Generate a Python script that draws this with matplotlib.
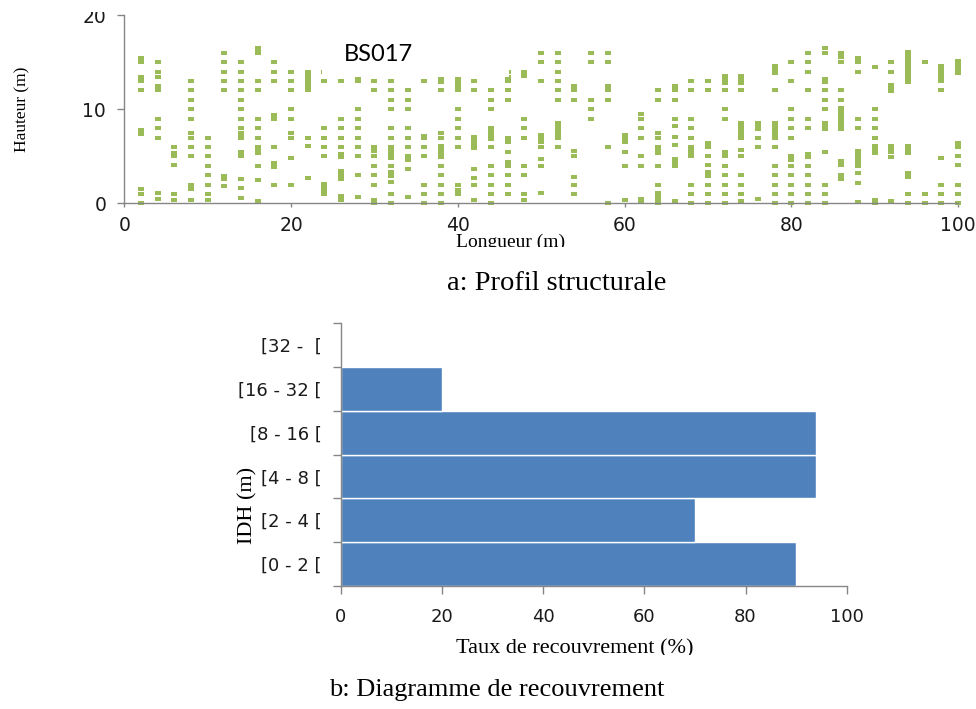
import matplotlib
matplotlib.use("Agg")
import matplotlib.pyplot as plt
from matplotlib.patches import Rectangle
from matplotlib.ticker import FixedLocator, NullFormatter
import numpy as np

W, H, DPI = 976, 709, 100

# ---- a: structural profile (crown positions along a 100 m transect) ----
profile_x = [2, 4, 6, 8, 10, 12, 14, 16, 18, 20,
             22, 24, 26, 28, 30, 32, 34, 36, 38, 40,
             42, 44, 46, 48, 50, 52, 54, 56, 58, 60,
             62, 64, 66, 68, 70, 72, 74, 76, 78, 80,
             82, 84, 86, 88, 90, 92, 94, 96, 98, 100]

profile_heights = [
    [15.5, 15.0, 13.4, 13.0, 12.0, 7.8, 7.4, 1.5, 1.0, 0.0],                       # 2
    [15.0, 14.0, 13.4, 12.5, 12.0, 9.0, 8.0, 6.9, 1.1, 0.5],                       # 4
    [6.0, 5.4, 5.0, 4.1, 1.0, 0.4],                                                # 6
    [13.0, 12.0, 11.0, 10.0, 9.0, 7.5, 6.9, 6.0, 5.0, 2.0, 1.7, 1.5, 0.4],         # 8
    [6.9, 6.0, 5.0, 4.0, 3.0, 1.9, 1.0, 0.4],                                      # 10
    [16.0, 15.0, 14.0, 13.0, 12.0, 2.9, 2.6, 1.8],                                 # 12
    [15.0, 14.0, 13.0, 12.0, 11.0, 10.0, 9.0, 8.0, 7.5, 7.2, 6.9, 5.5, 5.0,
     2.6, 1.6, 0.6],                                                               # 14
    [16.5, 16.2, 15.95, 13.0, 12.0, 9.0, 8.0, 6.9, 6.0, 5.7, 5.4, 4.0, 2.45, 0.2], # 16
    [15.0, 14.0, 13.0, 9.4, 9.0, 6.0, 4.3, 3.9, 2.0],                              # 18
    [14.0, 13.0, 12.0, 10.0, 9.0, 7.5, 6.9, 4.8, 1.9],                             # 20
    [14.0, 13.5, 13.2, 12.9, 12.5, 12.0, 6.9, 6.1, 2.7],                           # 22
    [14.0, 13.0, 8.0, 6.9, 6.0, 5.0, 2.1, 1.7, 1.3, 1.0],                          # 24
    [13.0, 9.0, 8.0, 6.9, 6.0, 5.2, 4.9, 3.4, 3.0, 2.6, 0.8, 0.4],                 # 26
    [13.2, 13.0, 10.0, 9.0, 8.0, 6.9, 6.0, 5.0, 3.0, 0.7],                         # 28
    [13.0, 12.0, 6.0, 5.6, 5.0, 4.0, 3.0, 1.9, 0.4, 0.0],                          # 30
    [13.0, 12.0, 11.0, 10.0, 8.0, 6.9, 6.0, 5.6, 5.2, 4.8, 4.0, 3.3, 2.9, 2.3,
     1.0, 0.0],                                                                    # 32
    [12.0, 11.0, 10.0, 8.0, 6.9, 6.0, 5.0, 4.6, 3.6, 0.7],                         # 34
    [13.0, 7.2, 6.9, 6.0, 5.0, 2.0, 1.0, 0.0],                                     # 36
    [13.3, 12.9, 12.0, 7.5, 6.9, 6.1, 5.7, 5.3, 4.9, 4.0, 3.0, 2.0, 1.0, 0.0],     # 38
    [13.3, 12.9, 12.5, 12.0, 10.0, 9.0, 8.0, 6.9, 6.0, 1.9, 1.4, 1.0],             # 40
    [13.0, 12.0, 7.1, 6.7, 6.3, 5.9, 3.7, 2.7, 1.9, 0.4],                          # 42
    [12.0, 11.0, 10.0, 8.0, 7.6, 7.2, 6.8, 6.0, 4.0, 3.0, 1.9, 1.0, 0.0],          # 44
    [14.0, 13.4, 13.0, 12.0, 11.0, 6.9, 6.5, 5.5, 4.4, 4.0, 3.0, 1.9, 1.0],        # 46
    [14.0, 13.5, 9.0, 8.0, 6.9, 4.0, 3.0, 1.0, 0.4],                               # 48
    [16.0, 15.0, 13.0, 7.3, 6.9, 6.5, 6.0, 4.7, 4.0, 1.1],                         # 50
    [16.0, 15.0, 14.0, 13.0, 12.0, 11.0, 8.5, 8.1, 7.7, 7.3, 6.9, 6.0],            # 52
    [12.5, 12.0, 11.0, 5.6, 5.0, 2.8, 1.9, 1.0],                                   # 54
    [16.0, 15.0, 11.0, 10.0, 9.0],                                                 # 56
    [16.0, 15.0, 12.5, 12.0, 11.0, 6.0, 0.0],                                      # 58
    [7.3, 6.9, 6.5, 5.5, 4.0, 0.4],                                                # 60
    [9.5, 9.0, 8.0, 6.9, 5.0, 4.0, 0.5, 0.1],                                      # 62
    [12.0, 11.0, 7.5, 6.9, 6.0, 5.6, 5.3, 4.0, 1.9, 1.1, 0.7, 0.35, 0.0],          # 64
    [12.5, 12.0, 11.0, 9.0, 8.2, 7.1, 6.2, 4.7, 4.3, 4.0, 0.2],                    # 66
    [13.0, 12.0, 9.0, 8.0, 6.9, 6.0, 5.6, 5.3, 5.0, 1.9, 1.0, 0.0],                # 68
    [13.0, 12.0, 6.4, 6.0, 5.0, 4.1, 3.3, 2.9, 1.9, 1.0, 0.0],                     # 70
    [13.5, 13.1, 12.8, 12.0, 10.0, 9.0, 5.5, 5.0, 4.0, 3.0, 1.9, 1.0, 0.0],        # 72
    [13.5, 13.1, 12.8, 12.0, 8.5, 8.1, 7.7, 7.4, 6.9, 5.7, 5.0, 3.0, 1.9, 1.0,
     0.2],                                                                         # 74
    [8.5, 8.2, 7.9, 6.9, 6.0, 0.5],                                                # 76
    [14.6, 14.2, 13.9, 12.0, 8.5, 8.1, 7.7, 7.4, 6.9, 6.0, 4.0, 3.0, 1.9, 1.0,
     0.0],                                                                         # 78
    [15.0, 13.0, 10.0, 9.0, 8.0, 6.9, 5.0, 4.6, 4.0, 3.0, 1.9, 1.0, 0.0],          # 80
    [16.0, 15.0, 14.0, 12.0, 9.0, 8.0, 5.25, 4.9, 4.0, 3.0, 2.0, 1.0, 0.0],        # 82
    [16.5, 16.0, 13.2, 12.9, 12.0, 11.0, 10.0, 8.5, 8.1, 7.9, 5.5, 1.9, 1.0, 0.0], # 84
    [16.0, 15.6, 15.0, 12.0, 11.0, 10.1, 9.7, 9.3, 8.9, 8.5, 8.1, 7.9, 4.5, 4.1,
     3.0, 2.6],                                                                    # 86
    [15.5, 15.0, 14.0, 9.0, 8.0, 5.6, 5.2, 4.8, 4.4, 4.0, 3.2, 2.2, 0.1],          # 88
    [14.5, 10.0, 9.0, 8.0, 6.9, 6.1, 5.7, 5.3, 0.4, 0.0],                          # 90
    [15.0, 14.0, 12.6, 12.2, 11.9, 6.1, 5.8, 5.5, 4.9, 0.2],                       # 92
    [16.1, 15.7, 15.3, 14.9, 14.5, 14.1, 13.7, 13.3, 12.9, 6.1, 5.7, 5.3, 3.2,
     2.8, 1.0, 0.0],                                                               # 94
    [15.0, 1.0, 0.0],                                                              # 96
    [14.6, 14.2, 13.8, 13.4, 13.0, 12.0, 4.8, 1.9, 1.0, 0.0],                      # 98
    [15.1, 14.7, 14.3, 13.9, 6.4, 6.0, 5.0, 4.1, 1.9, 1.0, 0.0],                   # 100
]

profile_xticks = [0, 20, 40, 60, 80, 100]
profile_yticks = [0, 10, 20]
plot_label = "BS017"

# ---- b: cover diagram by height class ----
height_classes = ["[0 - 2 [", "[2 - 4 [", "[4 - 8 [", "[8 - 16 [", "[16 - 32 [", "[32 -  ["]
cover_pct = [90, 70, 94, 94, 20, 0]
cover_xticks = [0, 20, 40, 60, 80, 100]

GREEN = "#9BBB59"
BLUE = "#4F81BD"
AXIS = "#868686"
SERIF = "Liberation Serif"
SANS = "DejaVu Sans"


def fx(px):
    return px / W


def fy(py):
    return 1.0 - py / H


fig = plt.figure(figsize=(W / DPI, H / DPI), dpi=DPI)
fig.patch.set_facecolor("white")

# ---------------- profile axes (pixel frame: x 124.3..958, y 15.3..203.3) ----------------
A1_L, A1_R, A1_T, A1_B = 124.3, 958.0, 15.3, 203.3
ax1 = fig.add_axes([fx(A1_L), fy(A1_B), fx(A1_R) - fx(A1_L), fy(A1_T) - fy(A1_B)])
xs = np.repeat(profile_x, [len(h) for h in profile_heights])
ys = np.concatenate([np.asarray(h, float) for h in profile_heights])
rect_marker = [(-1, -0.5), (1, -0.5), (1, 0.5), (-1, 0.5), (-1, -0.5)]
ax1.scatter(xs, ys, marker=rect_marker, s=25, c=GREEN, linewidths=0,
            clip_on=False, zorder=2)
ax1.set_xlim(0, 100)
ax1.set_ylim(0, 20)
ax1.set_xticks(profile_xticks)
ax1.set_yticks(profile_yticks)
for side in ("top", "right"):
    ax1.spines[side].set_visible(False)
for side in ("left", "bottom"):
    ax1.spines[side].set_color(AXIS)
    ax1.spines[side].set_linewidth(1.0)
ax1.tick_params(axis="y", direction="out", length=5, width=1, color=AXIS, pad=8,
                labelsize=13.5, labelcolor="#1a1a1a")
ax1.tick_params(axis="x", direction="out", length=3, width=1, color=AXIS, pad=6,
                labelsize=13.5, labelcolor="#1a1a1a")
for lbl in ax1.get_xticklabels() + ax1.get_yticklabels():
    lbl.set_fontfamily(SANS)

# white label box covering the upper canopy in the middle of the transect
ax1.add_patch(Rectangle((23.7, 13.45), 22.4, 8.0, facecolor="white",
                        edgecolor="none", zorder=3, clip_on=False))
ax1.text(30.5, 15.8, plot_label, fontsize=17, family="Lato", ha="center",
         va="center", color="black", zorder=4)

ax1.set_ylabel("Hauteur (m)", family=SERIF, fontsize=12.5, color="black")
ax1.yaxis.set_label_coords((30 - A1_L) / (A1_R - A1_L), 0.5)
ax1.set_xlabel("Longueur (m)", family=SERIF, fontsize=14, color="black", va="top")
ax1.xaxis.set_label_coords((511 - A1_L) / (A1_R - A1_L), -(234 - A1_B) / (A1_B - A1_T))

# ---------------- cover axes (pixel frame: x 341..846.7, y 323.3..585.7) ----------------
A2_L, A2_R, A2_T, A2_B = 341.0, 846.7, 323.3, 585.7
ax2 = fig.add_axes([fx(A2_L), fy(A2_B), fx(A2_R) - fx(A2_L), fy(A2_T) - fy(A2_B)])
pos = np.arange(len(height_classes))
ax2.barh(pos, cover_pct, height=1.0, color=BLUE, edgecolor="white", linewidth=1.0,
         zorder=2)
ax2.set_xlim(0, 100)
ax2.set_ylim(-0.5, len(height_classes) - 0.5)
ax2.set_xticks(cover_xticks)
ax2.yaxis.set_major_locator(FixedLocator(np.arange(-0.5, len(height_classes), 1.0)))
ax2.yaxis.set_major_formatter(NullFormatter())
ax2.set_yticks(pos, minor=True)
ax2.set_yticklabels(height_classes, minor=True)
for side in ("top", "right"):
    ax2.spines[side].set_visible(False)
for side in ("left", "bottom"):
    ax2.spines[side].set_color(AXIS)
    ax2.spines[side].set_linewidth(1.0)
ax2.tick_params(axis="y", which="major", direction="out", length=6, width=1, color=AXIS)
ax2.tick_params(axis="y", which="minor", length=0, pad=14, labelsize=13,
                labelcolor="#1a1a1a")
ax2.tick_params(axis="x", direction="out", length=6, width=1, color=AXIS, pad=10,
                labelsize=13, labelcolor="#1a1a1a")
for lbl in (ax2.get_xticklabels() + ax2.get_yticklabels(minor=True)):
    lbl.set_fontfamily(SANS)

ax2.set_ylabel("IDH (m)", family=SERIF, fontsize=16, color="black")
ax2.yaxis.set_label_coords((257 - A2_L) / (A2_R - A2_L), (A2_B - 505) / (A2_B - A2_T))
ax2.set_xlabel("Taux de recouvrement (%)", family=SERIF, fontsize=16, color="black",
               va="top")
ax2.xaxis.set_label_coords((574.5 - A2_L) / (A2_R - A2_L), -(639 - A2_B) / (A2_B - A2_T))

# trim strips (page margins between the panels)
for top, bottom in ((0, 12), (247, 262), (655, 668)):
    fig.add_artist(Rectangle((0, fy(bottom)), 1, fy(top) - fy(bottom),
                             transform=fig.transFigure, facecolor="white",
                             edgecolor="none", zorder=10))

# panel captions
fig.text(fx(557), fy(283), "a: Profil structurale", family=SERIF, fontsize=20.5,
         ha="center", va="center", color="black", zorder=11)
fig.text(fx(497), fy(690), "b: Diagramme de recouvrement", family=SERIF,
         fontsize=19, ha="center", va="center", color="black", zorder=11)

fig.savefig("out.png", dpi=DPI)
